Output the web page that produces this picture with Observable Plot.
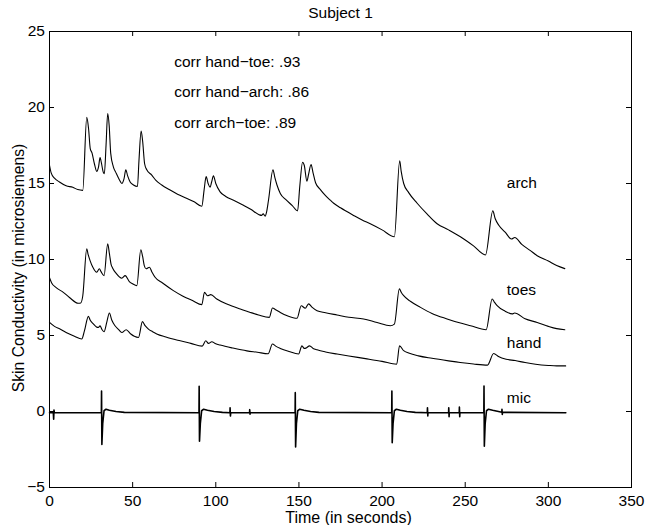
<!DOCTYPE html>
<html>
<head>
<meta charset="utf-8">
<script src="https://cdn.jsdelivr.net/npm/d3@7"></script>
<script src="https://cdn.jsdelivr.net/npm/@observablehq/plot@0.6"></script>
<style>
  html, body { margin: 0; padding: 0; background: #fff; }
  #chart svg { display: block; }
</style>
</head>
<body>
<div id="chart"></div>
<script>
// ---- data ----
const title = "Subject 1";
const xLabel = "Time (in seconds)";
const yLabel = "Skin Conductivity (in microsiemens)";
const xTicks = [0, 50, 100, 150, 200, 250, 300, 350];
const xTickLabels = ["0", "50", "100", "150", "200", "250", "300", "350"];
const yTicks = [-5, 0, 5, 10, 15, 20, 25];
const yTickLabels = ["\u22125", "0", "5", "10", "15", "20", "25"];

const seriesNames = ["arch", "toes", "hand", "mic"];
const seriesLabelX = [275, 275, 275, 275];
const seriesLabelY = [15, 8, 4.5, 0.9];

const corrTexts = ["corr hand\u2212toe: .93", "corr hand\u2212arch: .86", "corr arch\u2212toe: .89"];
const corrX = [75, 75, 75];
const corrY = [23, 21, 19];

const archT = [0, 1, 3, 6, 10, 14, 17, 20, 22.4, 23.5, 24.5, 25.6, 27, 28.4, 29.5, 30.4, 31.3, 32.3, 33, 34, 35, 35.9, 36.8, 38.4, 40, 42, 43.5, 44.8, 45.9, 47, 48.5, 50.5, 52.9, 53.8, 55.1, 56, 57.2, 58.5, 61.5, 64, 67.5, 72, 77, 82, 87, 91.6, 93, 94.2, 95.4, 96.6, 97.5, 98.6, 100, 102.6, 106, 110.7, 116, 121, 126, 127.5, 128.5, 129.7, 130.5, 131.7, 134.4, 135.5, 136.8, 138.8, 142, 146, 149.2, 150.5, 152.2, 153.2, 154.8, 155.8, 157.3, 158.5, 160, 162.9, 166, 168.9, 170.9, 175, 182.9, 188, 192.9, 200, 207.4, 210.6, 211.5, 213, 216, 221.1, 227, 233.1, 240, 247.1, 255, 262.2, 266.6, 268, 270.2, 274, 277.8, 279.8, 284, 289, 293.3, 300, 305, 309.9];
const archV = [16.2, 15.7, 15.35, 15.1, 14.85, 14.75, 14.6, 14.55, 19.35, 18.6, 17.3, 17.0, 16.3, 15.8, 16.1, 16.7, 16.3, 15.75, 15.65, 17.5, 19.6, 18.8, 17.0, 16.1, 15.7, 15.25, 15.0, 15.3, 15.9, 15.5, 15.1, 14.9, 14.8, 16.5, 18.45, 17.8, 16.3, 15.9, 15.55, 15.2, 14.9, 14.6, 14.3, 14.05, 13.8, 13.5, 14.6, 15.45, 15.0, 14.75, 15.1, 15.5, 15.0, 14.45, 14.15, 13.9, 13.6, 13.3, 12.95, 12.9, 13.0, 12.85, 13.1, 13.9, 15.9, 15.4, 14.9, 14.35, 13.95, 13.55, 13.2, 14.8, 16.4, 16.2, 15.15, 15.6, 16.25, 15.7, 15.05, 14.6, 14.2, 13.9, 13.7, 13.4, 12.9, 12.6, 12.35, 11.95, 11.5, 16.5, 15.8, 15.0, 14.4, 13.7, 13.0, 12.35, 11.95, 11.5, 10.9, 10.3, 13.2, 12.7, 12.25, 11.8, 11.35, 11.45, 11.0, 10.6, 10.25, 9.9, 9.6, 9.4];

const toesT = [0, 1.3, 4, 8.3, 12, 17.3, 18.8, 20, 22.4, 23.3, 24.4, 26, 28.4, 30, 31, 32.8, 35, 36, 37, 38, 40, 43.5, 45.5, 48, 50, 52.5, 54.9, 56, 57, 58.1, 60.1, 61.5, 63.5, 68, 74.5, 80, 86, 91.6, 93.2, 95, 97, 100.6, 107, 114.7, 120, 125.7, 132.2, 134.1, 136, 138.8, 143, 148.8, 151.4, 153.8, 155.8, 158, 160.9, 166, 172.9, 180, 188.9, 197, 205, 207.4, 210.4, 211.5, 213, 217, 223.1, 230, 239.1, 246, 253.2, 262.6, 266.2, 267.5, 269.2, 274, 278.3, 279.7, 286, 293.3, 300, 305, 309.9];
const toesV = [8.8, 8.46, 8.15, 7.84, 7.5, 7.12, 7.14, 7.6, 10.7, 10.3, 9.93, 9.5, 9.16, 9.39, 9.2, 8.94, 11.03, 10.4, 9.7, 9.43, 9.1, 8.77, 8.94, 8.55, 8.4, 8.28, 10.64, 10.2, 9.6, 9.39, 9.49, 9.2, 8.83, 8.45, 7.95, 7.6, 7.3, 7.03, 7.84, 7.62, 7.69, 7.4, 7.05, 6.74, 6.55, 6.35, 6.19, 6.81, 6.7, 6.52, 6.3, 6.13, 6.96, 6.79, 7.08, 6.85, 6.63, 6.5, 6.35, 6.2, 6.09, 5.85, 5.64, 5.75, 8.07, 7.85, 7.62, 7.25, 6.85, 6.45, 6.09, 5.85, 5.64, 5.38, 7.4, 7.2, 6.96, 6.6, 6.42, 6.48, 6.1, 5.86, 5.6, 5.45, 5.38];

const handT = [0, 3, 6.3, 10, 15, 19.4, 21, 23.4, 24.5, 26.4, 28.4, 29.4, 30.4, 31.5, 32.8, 34.5, 36, 37.5, 39.4, 41.5, 43.5, 46.1, 48.9, 51, 53.5, 55.9, 57.5, 59.5, 62, 64.5, 70, 78.6, 85, 91.8, 94, 95.6, 97.6, 100, 102.6, 110, 118.7, 125, 131.5, 134.1, 136, 138.8, 144, 149.8, 151.8, 153.2, 154.2, 156.4, 158.5, 160.9, 166, 172.9, 180, 190, 200, 208.8, 210.5, 213, 216, 221.9, 230, 240, 247, 255, 263.4, 267.1, 270, 274.6, 280, 286, 292.3, 300, 305, 310.4];
const handV = [5.86, 5.6, 5.43, 5.2, 4.95, 4.77, 5.3, 6.26, 6.0, 5.76, 5.55, 5.53, 5.64, 5.4, 5.25, 5.9, 6.48, 6.0, 5.64, 5.4, 5.2, 5.38, 5.1, 4.95, 4.87, 5.91, 5.65, 5.42, 5.25, 5.1, 4.9, 4.65, 4.48, 4.3, 4.65, 4.48, 4.59, 4.45, 4.37, 4.18, 3.99, 3.9, 3.8, 4.44, 4.3, 4.15, 3.95, 3.78, 4.32, 4.15, 4.17, 4.32, 4.15, 4.06, 3.92, 3.78, 3.65, 3.48, 3.3, 3.11, 4.32, 4.0, 3.85, 3.66, 3.5, 3.33, 3.22, 3.12, 3.05, 3.82, 3.62, 3.44, 3.35, 3.22, 3.11, 3.03, 3.0, 3.0];

const micT = [0, 2.3, 2.5, 2.7, 2.9, 31.2, 31.3, 31.5, 32.0, 32.8, 34, 36, 40, 45, 89.9, 90.0, 90.2, 90.7, 91.5, 92.7, 95, 99, 104, 108.5, 108.6, 108.8, 109, 120.3, 120.4, 120.6, 120.7, 147.7, 147.8, 148.0, 148.5, 149.3, 150.5, 153, 157, 162, 205.8, 205.9, 206.1, 206.6, 207.4, 208.6, 211, 215, 220, 227.2, 227.3, 227.5, 227.6, 240, 240.1, 240.3, 240.4, 246.4, 246.5, 246.7, 246.8, 261.2, 261.3, 261.5, 262.0, 262.8, 264, 266.5, 270, 272.0, 272.1, 272.3, 272.4, 276, 310.5];
const micV = [-0.08, -0.08, -0.5, 0.1, -0.08, -0.08, 1.35, -2.17, -0.8, 0.05, 0.15, 0.08, 0, -0.06, -0.08, 1.66, -1.95, -0.8, 0.05, 0.15, 0.08, 0, -0.06, -0.08, 0.25, -0.3, -0.08, -0.08, 0.12, -0.18, -0.08, -0.08, 1.24, -2.34, -0.8, 0.05, 0.15, 0.08, 0, -0.06, -0.08, 1.35, -2.06, -0.8, 0.05, 0.15, 0.08, 0, -0.06, -0.08, 0.25, -0.3, -0.08, -0.08, 0.25, -0.35, -0.08, -0.08, 0.3, -0.35, -0.08, -0.08, 1.68, -2.28, -0.8, 0.05, 0.15, 0.08, 0, -0.05, 0.15, -0.2, -0.06, -0.06, -0.08];

// ---- build tables ----
const toRows = (T, V) => T.map((t, i) => ({t, v: V[i]}));
const arch = toRows(archT, archV);
const toes = toRows(toesT, toesV);
const hand = toRows(handT, handV);
const mic = toRows(micT, micV);
const seriesLabels = seriesNames.map((name, i) => ({name, x: seriesLabelX[i], y: seriesLabelY[i]}));
const corr = corrTexts.map((text, i) => ({text, x: corrX[i], y: corrY[i]}));

// ---- layout ----
const W = 655, H = 525;
const mL = 49, mR = 24, mT = 31, mB = 38;
const pw = W - mL - mR, ph = H - mT - mB;
const tick = 5;
const font = "'Liberation Sans', Arial, Helvetica, sans-serif";

const chart = Plot.plot({
  width: W,
  height: H,
  marginLeft: mL,
  marginRight: mR,
  marginTop: mT,
  marginBottom: mB,
  style: {fontFamily: font, fontSize: "15.5px", color: "black", background: "white", overflow: "visible"},
  x: {domain: [0, 350]},
  y: {domain: [-5, 25]},
  marks: [
    Plot.frame({stroke: "black", strokeWidth: 1}),
    // inward ticks on all four sides
    Plot.ruleX(xTicks, {x: d => d, insetTop: ph - tick, stroke: "black"}),
    Plot.ruleX(xTicks, {x: d => d, insetBottom: ph - tick, stroke: "black"}),
    Plot.ruleY(yTicks, {y: d => d, insetRight: pw - tick, stroke: "black"}),
    Plot.ruleY(yTicks, {y: d => d, insetLeft: pw - tick, stroke: "black"}),
    Plot.axisX({ticks: xTicks, tickSize: 0, tickPadding: 7, tickFormat: d => xTickLabels[xTicks.indexOf(d)], label: null, fontSize: 15.5}),
    Plot.axisY({ticks: yTicks, tickSize: 0, tickPadding: 4.5, tickFormat: d => yTickLabels[yTicks.indexOf(d)], label: null, fontSize: 15.5}),
    // series
    Plot.line(arch, {x: "t", y: "v", stroke: "black", strokeWidth: 1.1, curve: "monotone-x"}),
    Plot.line(toes, {x: "t", y: "v", stroke: "black", strokeWidth: 1.1, curve: "monotone-x"}),
    Plot.line(hand, {x: "t", y: "v", stroke: "black", strokeWidth: 1.1, curve: "monotone-x"}),
    Plot.line(mic, {x: "t", y: "v", stroke: "black", strokeWidth: 1.6}),
    // labels
    Plot.text(seriesLabels, {x: "x", y: "y", text: "name", textAnchor: "start", fontSize: 15.5, fill: "black"}),
    Plot.text(corr, {x: "x", y: "y", text: "text", textAnchor: "start", fontSize: 15.5, fill: "black"}),
    Plot.text([title], {frameAnchor: "top", textAnchor: "middle", lineAnchor: "middle", dy: -18.8, fontSize: 15.5, fill: "black"}),
    Plot.text([xLabel], {frameAnchor: "bottom", textAnchor: "middle", lineAnchor: "middle", dy: 30.7, dx: 8, fontSize: 16, fill: "black", letterSpacing: 0.6}),
    Plot.text([yLabel], {frameAnchor: "left", textAnchor: "middle", lineAnchor: "middle", rotate: -90, dx: -30.1, dy: 8.5, fontSize: 15.7, fill: "black"})
  ]
});

document.getElementById("chart").appendChild(chart);
</script>
</body>
</html>
